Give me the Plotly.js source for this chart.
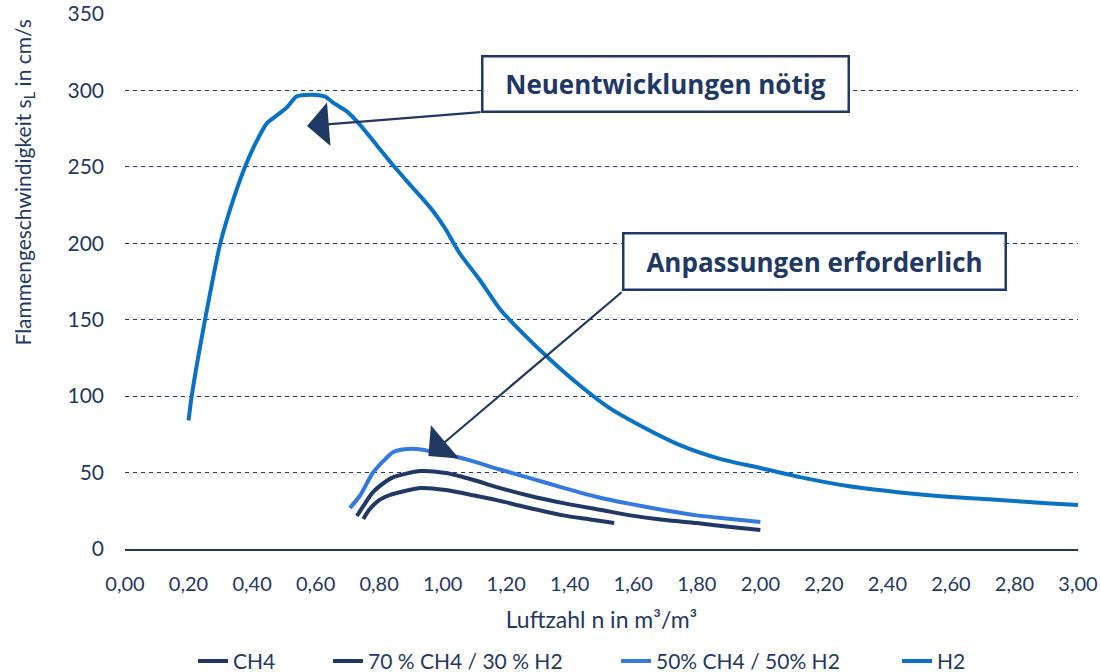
<!DOCTYPE html>
<html>
<head>
<meta charset="utf-8">
<script src="https://cdn.plot.ly/plotly-3.0.1.min.js"></script>
<style>html,body{margin:0;padding:0;background:#fff;}#chart{width:1101px;height:672px;}</style>
</head>
<body>
<div id="chart"></div>
<script>
// Data
const seriesNames = ["CH4", "70 % CH4 / 30 % H2", "50% CH4 / 50% H2", "H2"];

const ch4X = [0.75, 0.77, 0.80, 0.83, 0.855, 0.93, 1.01, 1.10, 1.17, 1.26, 1.38, 1.46, 1.54];
const ch4Y = [19.6, 26, 32, 35, 36.6, 39.9, 38.6, 35, 32, 27.5, 22, 19.5, 17];

const mix70X = [0.73, 0.75, 0.78, 0.82, 0.845, 0.93, 1.01, 1.10, 1.17, 1.27, 1.38, 1.50, 1.59, 1.70, 1.80, 1.90, 2.00];
const mix70Y = [21.6, 28, 37, 44, 47, 51, 49.7, 45, 40.5, 35, 30, 25.5, 22, 19, 17, 14.5, 12.4];

const mix50X = [0.708, 0.74, 0.78, 0.82, 0.845, 0.88, 0.918, 0.96, 1.02, 1.086, 1.18, 1.275, 1.38, 1.486, 1.59, 1.694, 1.80, 1.90, 2.00];
const mix50Y = [26.8, 35, 49.7, 59, 63.4, 65.2, 65.4, 64, 61.5, 58, 52, 46.4, 40, 34, 29.5, 25.5, 22, 19.8, 17.7];

const h2X = [0.20, 0.21, 0.23, 0.252, 0.275, 0.30, 0.34, 0.378, 0.41, 0.447, 0.48, 0.51, 0.54, 0.57, 0.60, 0.63, 0.655, 0.70, 0.74, 0.793, 0.844, 0.89, 0.929, 0.97, 1.007, 1.055, 1.117, 1.18, 1.243, 1.338, 1.432, 1.527, 1.62, 1.747, 1.873, 2.00, 2.125, 2.28, 2.44, 2.60, 2.72, 2.90, 3.00];
const h2Y = [84, 100, 125, 150, 175, 200, 228, 250, 265, 278.6, 284, 289, 296, 297, 297, 296, 292, 286, 277.5, 264, 251, 240, 231, 221, 210, 193, 176, 157, 143, 124, 107, 92, 81, 68, 59, 53, 47, 41, 37, 34, 32.5, 30, 28.8];

const xTickVals = [0, 0.2, 0.4, 0.6, 0.8, 1.0, 1.2, 1.4, 1.6, 1.8, 2.0, 2.2, 2.4, 2.6, 2.8, 3.0];
const xTickText = ["0,00","0,20","0,40","0,60","0,80","1,00","1,20","1,40","1,60","1,80","2,00","2,20","2,40","2,60","2,80","3,00"];
const yTickVals = [0, 50, 100, 150, 200, 250, 300, 350];

const NAVY = "#1F3864";
const colors = [NAVY, NAVY, "#3479DD", "#0A72C2"];
const FONT = "Lato, 'Open Sans', sans-serif";
const BOLDFONT = "'Open Sans', Lato, sans-serif";

const xs = [ch4X, mix70X, mix50X, h2X];
const ys = [ch4Y, mix70Y, mix50Y, h2Y];
const legendIds = ["legend", "legend2", "legend3", "legend4"];
const legendX = [0.0714, 0.2130, 0.5152, 0.8101];

const traces = seriesNames.map((n, i) => ({
  type: "scatter",
  mode: "lines",
  name: n,
  legend: legendIds[i],
  x: xs[i],
  y: ys[i],
  line: {color: colors[i], width: 4, shape: "spline", smoothing: 0.7},
  hoverinfo: "x+y+name"
}));

const layout = {
  width: 1101,
  height: 672,
  margin: {l: 125, r: 23, t: 14, b: 123, autoexpand: false},
  paper_bgcolor: "#ffffff",
  plot_bgcolor: "#ffffff",
  font: {family: FONT, color: NAVY, size: 18},
  showlegend: true,
  xaxis: {
    range: [0, 3],
    tickvals: xTickVals,
    ticktext: xTickText,
    showgrid: false,
    zeroline: false,
    showline: true,
    linecolor: NAVY,
    linewidth: 2,
    ticks: "",
    ticklabelstandoff: 16,
    tickfont: {family: FONT, size: 20, color: NAVY},
    title: {text: "Luftzahl n in m³/m³", font: {family: FONT, size: 23, color: NAVY}, standoff: 18},
    automargin: false,
    fixedrange: true
  },
  yaxis: {
    range: [0, 350],
    tickvals: yTickVals,
    showgrid: true,
    gridcolor: NAVY,
    gridwidth: 1,
    griddash: "4px,4px",
    zeroline: false,
    showline: false,
    ticks: "",
    ticklabelstandoff: 20,
    tickfont: {family: FONT, size: 21, color: NAVY},
    automargin: false,
    fixedrange: true
  },
  annotations: [
    {
      xref: "paper", yref: "paper",
      x: -0.107, y: 0.685,
      xanchor: "center", yanchor: "middle",
      textangle: -90,
      text: "Flammengeschwindigkeit s<sub>L</sub> in cm/s",
      showarrow: false,
      font: {family: FONT, size: 21, color: NAVY}
    },
    // arrows (tail at box corner, tip at curve)
    {
      xref: "x", yref: "y", axref: "x", ayref: "y",
      x: 0.573, y: 276.7, ax: 1.124, ay: 285.9,
      text: "", showarrow: true,
      arrowhead: 1, arrowsize: 3.3, arrowwidth: 2.2, arrowcolor: NAVY,
      standoff: 0, startstandoff: 0
    },
    {
      xref: "x", yref: "y", axref: "x", ayref: "y",
      x: 0.955, y: 60.8, ax: 1.568, ay: 168.8,
      text: "", showarrow: true,
      arrowhead: 1, arrowsize: 3.3, arrowwidth: 2.2, arrowcolor: NAVY,
      standoff: 0, startstandoff: 0
    },
    // text boxes
    {
      xref: "x", yref: "y",
      x: 1.703, y: 304.5,
      xanchor: "center", yanchor: "middle",
      text: "<b>Neuentwicklungen nötig</b>",
      showarrow: false,
      width: 364, height: 53,
      bgcolor: "#ffffff",
      bordercolor: NAVY, borderwidth: 2.5, borderpad: 0,
      font: {family: BOLDFONT, size: 26, color: NAVY}
    },
    {
      xref: "x", yref: "y",
      x: 2.172, y: 187.8,
      xanchor: "center", yanchor: "middle",
      text: "<b>Anpassungen erforderlich</b>",
      showarrow: false,
      width: 380, height: 54,
      bgcolor: "#ffffff",
      bordercolor: NAVY, borderwidth: 2.5, borderpad: 0,
      font: {family: BOLDFONT, size: 26, color: NAVY}
    }
  ]
};

legendIds.forEach((id, i) => {
  layout[id] = {
    orientation: "h",
    xref: "paper", x: legendX[i], xanchor: "left",
    yref: "container", y: 0.016, yanchor: "middle",
    font: {family: FONT, size: 21, color: NAVY},
    bgcolor: "rgba(0,0,0,0)"
  };
});

Plotly.newPlot("chart", traces, layout, {displayModeBar: false, staticPlot: false});
</script>
</body>
</html>
